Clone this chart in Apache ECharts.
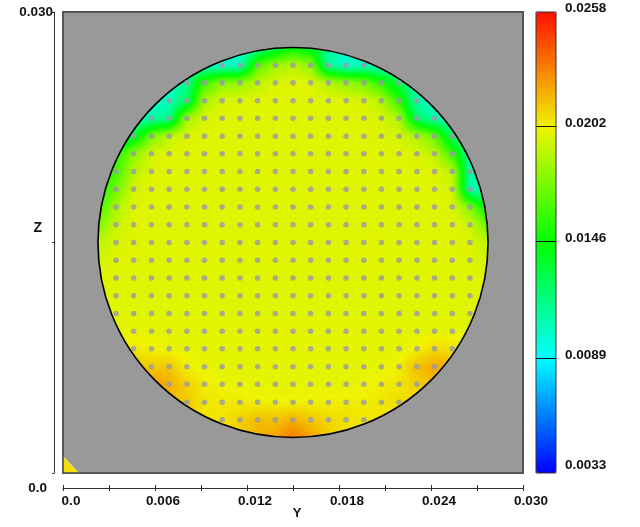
<!DOCTYPE html>
<html><head><meta charset="utf-8">
<style>html,body{margin:0;padding:0;background:#fff}#c{width:640px;height:527px}</style>
<script src="https://cdn.jsdelivr.net/npm/echarts@6/dist/echarts.min.js"></script>
</head><body><div id="c"></div>
<script>
// node positions of the measuring grid (metres)
var nodeY = [.00231,.00346,.00461,.00577,.00692,.00808,.00923,.01038,.01154,.01269,.01385,.015,.01615,.01731,.01846,.01962,.02077,.02192,.02308,.02423,.02539,.02654,.02769];
var nodeZ = [.02769,.02654,.02539,.02423,.02308,.02192,.02077,.01962,.01846,.01731,.01615,.015,.01385,.01269,.01154,.01038,.00923,.00808,.00692,.00577,.00461,.00346,.00231];
// field values in 1e-4, row by row from top to bottom, left to right
var fieldRows = [
[130,125,115,105,100,100,100,100,100,110,128,145,135,110,100,100,100,100,100,100,100,100,100],
[125,120,110,100,100,100,100,100,103,165,182,188,180,112,100,104,100,100,100,100,100,100,100],
[125,115,105,100,100,115,160,178,180,190,197,198,198,188,180,174,155,128,105,100,100,100,100],
[125,115,105,100,104,125,185,196,198,198,198,198,198,198,198,196,188,155,108,100,100,100,100],
[125,112,105,108,115,183,196,198,198,198,198,198,198,198,198,198,196,186,124,108,100,100,100],
[125,120,133,174,190,197,198,198,198,198,198,198,198,198,198,198,197,195,186,170,124,105,100],
[140,153,179,195,198,198,198,198,198,198,198,198,198,198,198,198,198,198,197,190,160,105,100],
[148,160,188,198,198,198,198,198,198,198,198,198,198,198,198,198,198,198,198,198,190,112,100],
[150,172,195,198,198,198,198,198,198,198,198,198,198,198,198,198,198,198,198,198,196,108,105],
[160,185,198,198,198,198,198,198,198,198,198,198,198,198,198,198,198,198,198,198,197,175,140],
[175,192,198,198,198,198,198,198,198,198,198,198,198,198,198,198,198,198,198,198,198,195,170],
[190,196,198,198,198,198,198,198,198,198,198,198,198,198,198,198,198,198,198,198,198,197,190],
[195,198,198,198,198,198,198,198,198,198,198,198,198,198,198,198,198,198,198,198,198,198,195],
[198,198,198,198,198,198,198,198,198,198,198,198,198,198,198,198,198,198,198,198,198,198,198],
[198,198,198,198,198,198,198,198,198,198,198,198,198,198,198,198,198,198,198,198,198,198,198],
[198,198,198,198,198,198,198,198,198,198,198,198,198,198,198,198,198,198,198,198,198,198,198],
[199,199,200,199,199,199,199,199,199,199,199,199,199,199,199,199,199,199,199,199,199,199,199],
[204,204,204,202,200,199,199,199,199,199,199,199,199,199,199,199,199,199,202,208,206,204,204],
[215,215,215,211,213,203,200,199,199,199,199,199,199,199,199,199,200,203,215,220,215,210,210],
[225,225,225,226,218,210,204,201,200,199,199,199,199,199,199,201,203,205,210,216,215,212,210],
[222,222,222,220,218,212,205,204,204,203,202,202,202,203,204,203,205,207,208,208,208,208,208],
[215,215,215,215,212,210,206,205,210,215,214,218,213,208,206,205,205,205,205,205,205,205,205],
[212,212,212,212,210,208,206,208,212,218,222,232,222,212,208,206,206,206,206,206,206,206,206]
];
// dots: half-width (in columns) of each row from top to bottom
var dotColumns = [.00346,.00461,.00577,.00692,.00808,.00923,.01038,.01154,.01269,.01385,.015,.01615,.01731,.01846,.01962,.02077,.02192,.02308,.02423,.02539,.02654];
var dotRowZ = [.02654,.02539,.02423,.02308,.02192,.02077,.01962,.01846,.01731,.01615,.015,.01385,.01269,.01154,.01038,.00923,.00808,.00692,.00577,.00461,.00346];
var dotRowHalf = [4,6,7,8,9,9,10,10,10,10,10,10,10,10,10,9,9,8,7,6,4];
// geometry in data units
var circleCentre = [.015,.015];
var circleRadius = .01272;
var cornerTriangle = [[0,0],[.00102,0],[0,.00108]];
// axes
var xTicks = [0,.006,.012,.018,.024,.03];
var yTicks = [0,.015,.03];
var yTickLabels = [0,.03];
var barTicks = [.0033,.0089,.0146,.0202,.0258];
var barInner = [.0089,.0146,.0202];
var barColors = ['#0000ff','#00ffff','#00ff00','#f0f400','#ff1000'];
var vMin = .0033, vMax = .0258;

var rgbStops = barColors.map(function(c){return [parseInt(c.substr(1,2),16),parseInt(c.substr(3,2),16),parseInt(c.substr(5,2),16)];});
function colorOf(v){
  var t=(v-vMin)/(vMax-vMin)*(rgbStops.length-1);
  t=Math.max(0,Math.min(rgbStops.length-1.0001,t));
  var i=Math.floor(t),f=t-i,a=rgbStops[i],b=rgbStops[i+1];
  return 'rgb('+Math.round(a[0]+(b[0]-a[0])*f)+','+Math.round(a[1]+(b[1]-a[1])*f)+','+Math.round(a[2]+(b[2]-a[2])*f)+')';
}
var cells=[];
for(var r=0;r<nodeZ.length-1;r++)for(var c=0;c<nodeY.length-1;c++){
  cells.push([nodeY[c],nodeZ[r],nodeY[c+1],nodeZ[r+1],fieldRows[r][c]/1e4,fieldRows[r][c+1]/1e4,fieldRows[r+1][c]/1e4,fieldRows[r+1][c+1]/1e4]);
}
var dots=[];
dotRowZ.forEach(function(z,i){
  var h=dotRowHalf[i];
  for(var k=10-h;k<=10+h;k++)dots.push([dotColumns[k],z]);
});
var SUB=8;
function renderCell(params,api){
  var p0=api.coord([api.value(0),api.value(1)]),p1=api.coord([api.value(2),api.value(3)]);
  var v00=api.value(4),v10=api.value(5),v01=api.value(6),v11=api.value(7);
  var w=(p1[0]-p0[0])/SUB,h=(p1[1]-p0[1])/SUB,ch=[];
  for(var a=0;a<SUB;a++)for(var b=0;b<SUB;b++){
    var u=(a+.5)/SUB,t=(b+.5)/SUB;
    var v=v00*(1-u)*(1-t)+v10*u*(1-t)+v01*(1-u)*t+v11*u*t;
    ch.push({type:'rect',silent:true,shape:{x:p0[0]+a*w,y:p0[1]+b*h,width:w+.6,height:h+.6},style:{fill:colorOf(v)}});
  }
  return {type:'group',children:ch};
}
function pxRadius(api){
  return api.coord([circleCentre[0]+circleRadius,circleCentre[1]])[0]-api.coord(circleCentre)[0];
}
var labelFont={fontWeight:'bold',fontSize:13.5,color:'#111',fontFamily:'Liberation Sans'};
var option={
  animation:false,
  backgroundColor:'#fff',
  textStyle:{fontFamily:'Liberation Sans'},
  grid:[
    {left:63,top:12,width:460,height:461,outerBoundsMode:'none',show:true,backgroundColor:'#999999',borderColor:'#444',borderWidth:1.5},
    {left:536,top:12,width:20,height:461,outerBoundsMode:'none',show:false}
  ],
  xAxis:[
    {gridIndex:0,type:'value',min:0,max:.03,interval:.003,position:'bottom',offset:15,name:'Y',nameLocation:'middle',nameGap:19,nameMoveOverlap:false,
     nameTextStyle:{fontWeight:'bold',fontSize:13,color:'#111',padding:[0,0,0,8]},
     splitLine:{show:false},
     axisLine:{show:true,onZero:false,lineStyle:{color:'#333',width:1}},
     axisTick:{show:true,length:3,lineStyle:{color:'#333',width:1}},
     axisLabel:Object.assign({customValues:xTicks,margin:6,padding:[0,0,0,16],hideOverlap:false,
       formatter:function(v){return v===0?'0.0':v.toFixed(3);}},labelFont)},
    {gridIndex:0,type:'value',min:0,max:.03,interval:.003,position:'bottom',offset:15,
     splitLine:{show:false},axisLine:{show:false,onZero:false},axisLabel:{show:false},
     axisTick:{show:true,inside:true,length:3,lineStyle:{color:'#333',width:1}}},
    {gridIndex:1,type:'value',min:0,max:1,show:false}
  ],
  yAxis:[
    {gridIndex:0,type:'value',min:0,max:.03,interval:.015,position:'left',offset:9,name:'{z|Z}',nameLocation:'middle',nameRotate:0,nameGap:12,nameMoveOverlap:false,
     nameTextStyle:{rich:{z:{fontWeight:'bold',fontSize:14,color:'#111',fontFamily:'Liberation Sans',padding:[0,0,28,0]}}},
     splitLine:{show:false},
     axisLine:{show:true,onZero:false,lineStyle:{color:'#333',width:1}},
     axisTick:{show:true,length:2,customValues:yTicks,lineStyle:{color:'#333',width:1}},
     axisLabel:{customValues:yTickLabels,margin:1,hideOverlap:false,
       formatter:function(v){return v===0?'{b|0.0}':'{a|0.030}';},
       rich:{a:labelFont,b:Object.assign({padding:[30,6,0,0]},labelFont)}}},
    {gridIndex:1,type:'value',min:vMin,max:vMax,position:'right',z:6,
     splitLine:{show:false},axisLine:{show:false,onZero:false},
     axisTick:{show:true,inside:true,length:20,customValues:barInner,lineStyle:{color:'#111',width:1}},
     axisLabel:{customValues:barTicks,margin:9,hideOverlap:false,
       formatter:function(v){var s=v.toFixed(4);return v===vMin?'{b|'+s+'}':v===vMax?'{t|'+s+'}':'{m|'+s+'}';},
       rich:{b:Object.assign({padding:[0,0,16,0]},labelFont),
             m:Object.assign({padding:[0,0,6,0]},labelFont),
             t:Object.assign({padding:[0,0,8,0]},labelFont)}}}
  ],
  visualMap:{type:'continuous',min:vMin,max:vMax,seriesIndex:0,dimension:4,left:536,top:12,itemWidth:20,itemHeight:461,padding:0,
    calculable:false,realtime:false,hoverLink:false,text:null,z:2,
    inRange:{color:barColors}},
  series:[
    {type:'custom',name:'field',xAxisIndex:0,yAxisIndex:0,clip:true,silent:true,data:cells,z:1,encode:{x:0,y:1},renderItem:renderCell},
    {type:'custom',name:'mask',xAxisIndex:0,yAxisIndex:0,clip:true,silent:true,data:[circleCentre],z:2,encode:{x:0,y:1},
     renderItem:function(p,api){var c=api.coord(circleCentre);
       return {type:'ring',silent:true,shape:{cx:c[0],cy:c[1],r:400,r0:pxRadius(api)},style:{fill:'#999999'}};}},
    {type:'custom',name:'outline',xAxisIndex:0,yAxisIndex:0,clip:false,silent:true,data:[circleCentre],z:3,encode:{x:0,y:1},
     renderItem:function(p,api){
       var c=api.coord(circleCentre),a=api.coord([0,.03]),b=api.coord([.03,0]);
       return {type:'group',children:[
         {type:'circle',shape:{cx:c[0],cy:c[1],r:pxRadius(api)},style:{fill:'none',stroke:'#000',lineWidth:1.6}},
         {type:'polygon',shape:{points:cornerTriangle.map(function(q){return api.coord(q);})},style:{fill:'#f2e000',stroke:'#fff8b0',lineWidth:.6}},
         {type:'rect',shape:{x:a[0],y:a[1],width:b[0]-a[0],height:b[1]-a[1]},style:{fill:'none',stroke:'#444',lineWidth:1.5}}
       ]};}},
    {type:'scatter',name:'points',xAxisIndex:0,yAxisIndex:0,silent:true,data:dots,symbol:'circle',symbolSize:5.5,z:4,
     itemStyle:{color:'#9a9aa6'}},
    {type:'custom',name:'barFrame',xAxisIndex:2,yAxisIndex:1,clip:false,silent:true,data:[[0,vMax]],z:6,encode:{x:0,y:1},
     renderItem:function(p,api){var a=api.coord([0,vMax]),b=api.coord([1,vMin]);
       return {type:'rect',shape:{x:a[0],y:a[1],width:b[0]-a[0],height:b[1]-a[1]},style:{fill:'none',stroke:'#333',lineWidth:1}};}}
  ]
};
var chart=echarts.init(document.getElementById('c'),null,{renderer:'canvas'});
chart.setOption(option);
</script></body></html>
